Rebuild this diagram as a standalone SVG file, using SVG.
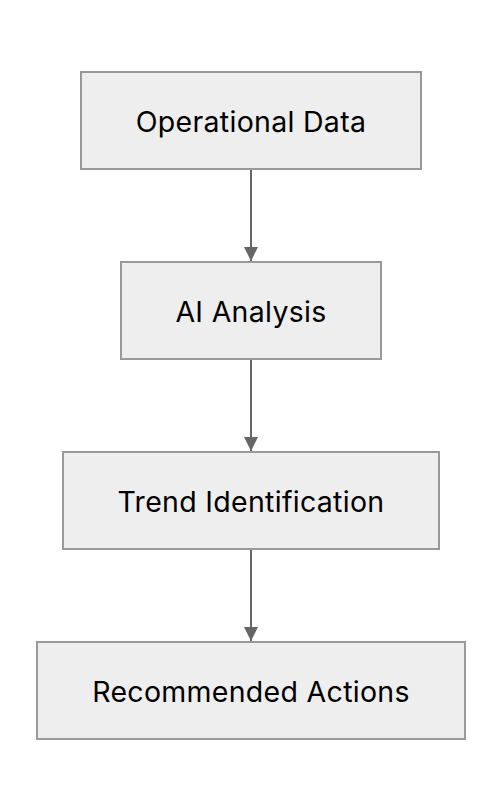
<svg xmlns="http://www.w3.org/2000/svg" width="502" height="812" viewBox="0 0 502 812">
<style>
.box{fill:#eeeeee;stroke:#999999;stroke-width:2}
.lbl{font-family:Inter,"Liberation Sans",sans-serif;font-size:28.5px;letter-spacing:0.3px;fill:#000000;text-anchor:middle;dominant-baseline:central}
.edge{stroke:#666666;stroke-width:2;fill:none}
</style>
<defs>
<marker id="arr" viewBox="0 0 10 10" refX="10" refY="5" markerWidth="7" markerHeight="7" markerUnits="strokeWidth" orient="auto">
<path d="M0,0 L10,5 L0,10 z" fill="#666666"/>
</marker>
</defs>
<rect width="502" height="812" fill="#ffffff"/>
<g id="edges">
<line class="edge" x1="251" y1="170" x2="251" y2="261" marker-end="url(#arr)"/>
<line class="edge" x1="251" y1="360" x2="251" y2="451" marker-end="url(#arr)"/>
<line class="edge" x1="251" y1="550" x2="251" y2="641" marker-end="url(#arr)"/>
</g>
<g id="n1"><rect class="box" x="81" y="72" width="340" height="97"/><text class="lbl" x="251" y="121">Operational Data</text></g>
<g id="n2"><rect class="box" x="121" y="262" width="260" height="97"/><text class="lbl" x="251" y="311">AI Analysis</text></g>
<g id="n3"><rect class="box" x="63" y="452" width="376" height="97"/><text class="lbl" x="251" y="501">Trend Identification</text></g>
<g id="n4"><rect class="box" x="37" y="642" width="428" height="97"/><text class="lbl" x="251" y="691">Recommended Actions</text></g>
</svg>
